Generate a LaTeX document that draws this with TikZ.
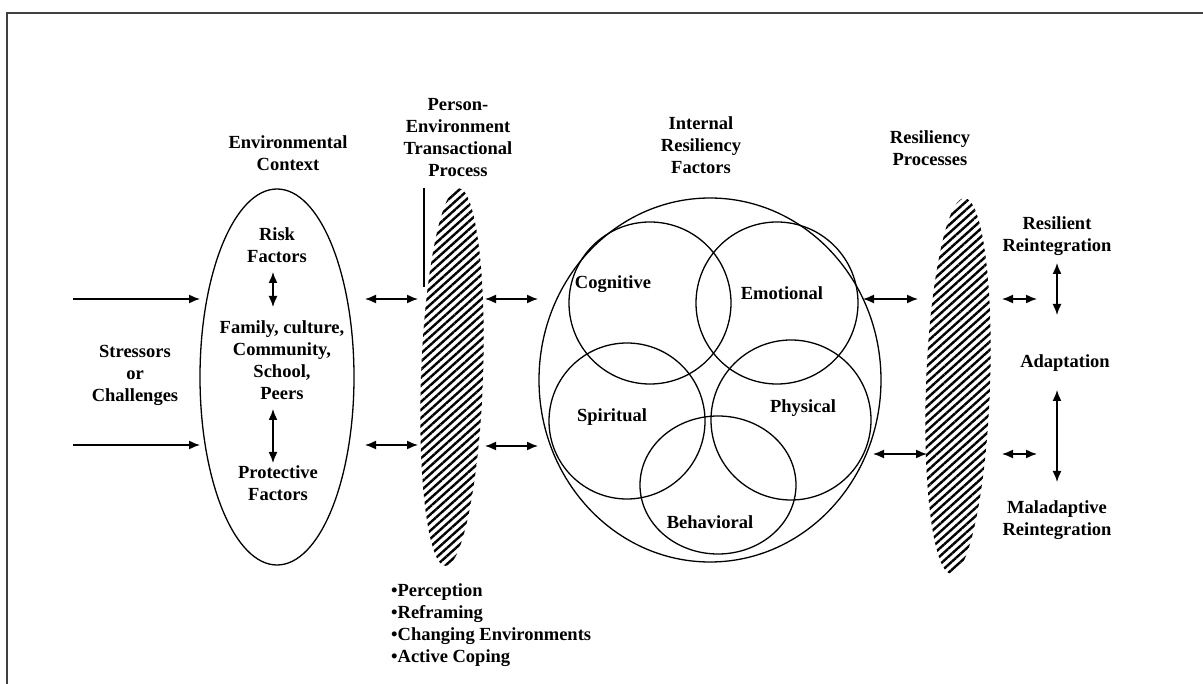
\documentclass[tikz,border=0pt]{standalone}
\usepackage{fontspec}
\setmainfont{Liberation Serif}
\usetikzlibrary{shapes.geometric,arrows.meta,patterns.meta}
\tikzset{
  lbl/.style={font=\fontsize{18.5}{22}\selectfont\bfseries, align=center, inner sep=0pt},
  outl/.style={draw, line width=1.3pt, inner sep=0pt},
  dbl/.style={line width=1.5pt, {Latex[length=11pt,width=9pt]}-{Latex[length=11pt,width=9pt]}},
  sgl/.style={line width=1.5pt, -{Latex[length=11pt,width=9pt]}},
  hatch/.style={ellipse, inner sep=0pt, pattern={Lines[angle=42,distance=6pt,line width=2.4pt]}},
  frame/.style={line width=2pt, black!75},
}
\begin{document}
\begin{tikzpicture}[x=1pt,y=-1pt]
\useasboundingbox (0,0) rectangle (1203,684);
% frame
\coordinate (fb) at (7,684); \coordinate (fc) at (7,13); \coordinate (fr) at (1203,13);
\draw[frame] (fb) -- (fc) -- (fr);

% titles
\node[lbl] (envt) at (288,153) {Environmental\\Context};
\node[lbl] (pet) at (458,138) {Person-\\Environment\\Transactional\\Process};
\node[lbl] (irft) at (701,145) {Internal\\Resiliency\\Factors};
\node[lbl] (rpt) at (930,148) {Resiliency\\Processes};

% stressors
\node[lbl] (str) at (135,375) {Stressors\\or\\Challenges};

% environmental ellipse
\node[outl, ellipse, minimum width=154pt, minimum height=376pt] (env) at (277,377) {};
\node[lbl] (risk) at (277,245) {Risk\\Factors};
\node[lbl] (fam) at (282,360) {Family, culture,\\Community,\\School,\\Peers};
\node[lbl] (prot) at (278,483) {Protective\\Factors};
\coordinate (ra) at (273,272); \coordinate (rb) at (273,307);
\draw[dbl] (ra) -- (rb);
\coordinate (pa) at (273,409); \coordinate (pb) at (273,463);
\draw[dbl] (pa) -- (pb);

% input arrows
\coordinate (i1a) at (73,299); \coordinate (i1b) at (200,299);
\coordinate (i2a) at (73,445); \coordinate (i2b) at (200,445);
\draw[sgl] (i1a) -- (i1b);
\draw[sgl] (i2a) -- (i2b);

% hatched transactional process
\node[hatch, minimum width=62pt, minimum height=378pt, rotate=-2] (h1) at (452,377) {};
\coordinate (v1a) at (424,188); \coordinate (v1b) at (424,287);
\draw[line width=1.2pt] (v1a) -- (v1b);
\coordinate (a1) at (365,299); \coordinate (a2) at (418,299);
\coordinate (a3) at (365,445); \coordinate (a4) at (418,445);
\draw[dbl] (a1) -- (a2);
\draw[dbl] (a3) -- (a4);
\coordinate (b1) at (485,299); \coordinate (b2) at (538,299);
\coordinate (b3) at (485,446); \coordinate (b4) at (538,446);
\draw[dbl] (b1) -- (b2);
\draw[dbl] (b3) -- (b4);

% bullets
\node[lbl, align=left, anchor=west] (bul) at (391,625) {•Perception\\•Reframing\\•Changing Environments\\•Active Coping};

% internal resiliency factors
\node[outl, ellipse, minimum width=342pt, minimum height=364pt] (outer) at (710,380) {};
\node[outl, circle, minimum size=162pt] (cog) at (650,303) {};
\node[outl, circle, minimum size=162pt] (emo) at (777,303) {};
\node[outl, circle, minimum size=156pt] (spi) at (627,421) {};
\node[outl, circle, minimum size=160pt] (phy) at (791,420) {};
\node[outl, ellipse, minimum width=156pt, minimum height=138pt] (beh) at (718,485) {};
\node[lbl] (cogl) at (613,284) {Cognitive};
\node[lbl] (emol) at (782,293) {Emotional};
\node[lbl] (spil) at (612,417) {Spiritual};
\node[lbl] (phyl) at (803,408) {Physical};
\node[lbl] (behl) at (710,522) {Behavioral};

% resiliency processes
\node[hatch, minimum width=64pt, minimum height=376pt, rotate=-2] (h2) at (958,386) {};
\coordinate (c1) at (863,299); \coordinate (c2) at (918,299);
\coordinate (c3) at (873,454); \coordinate (c4) at (927,454);
\draw[dbl] (c1) -- (c2);
\draw[dbl] (c3) -- (c4);
\coordinate (d1) at (1002,299); \coordinate (d2) at (1037,299);
\coordinate (d3) at (1002,454); \coordinate (d4) at (1037,454);
\draw[dbl] (d1) -- (d2);
\draw[dbl] (d3) -- (d4);

% outcomes
\node[lbl] (resl) at (1057,236) {Resilient\\Reintegration};
\node[lbl] (adap) at (1065,363) {Adaptation};
\node[lbl] (mal) at (1057,520) {Maladaptive\\Reintegration};
\coordinate (e1) at (1057,263); \coordinate (e2) at (1057,315);
\coordinate (e3) at (1057,390); \coordinate (e4) at (1057,482);
\draw[dbl] (e1) -- (e2);
\draw[dbl] (e3) -- (e4);
\end{tikzpicture}
\end{document}
